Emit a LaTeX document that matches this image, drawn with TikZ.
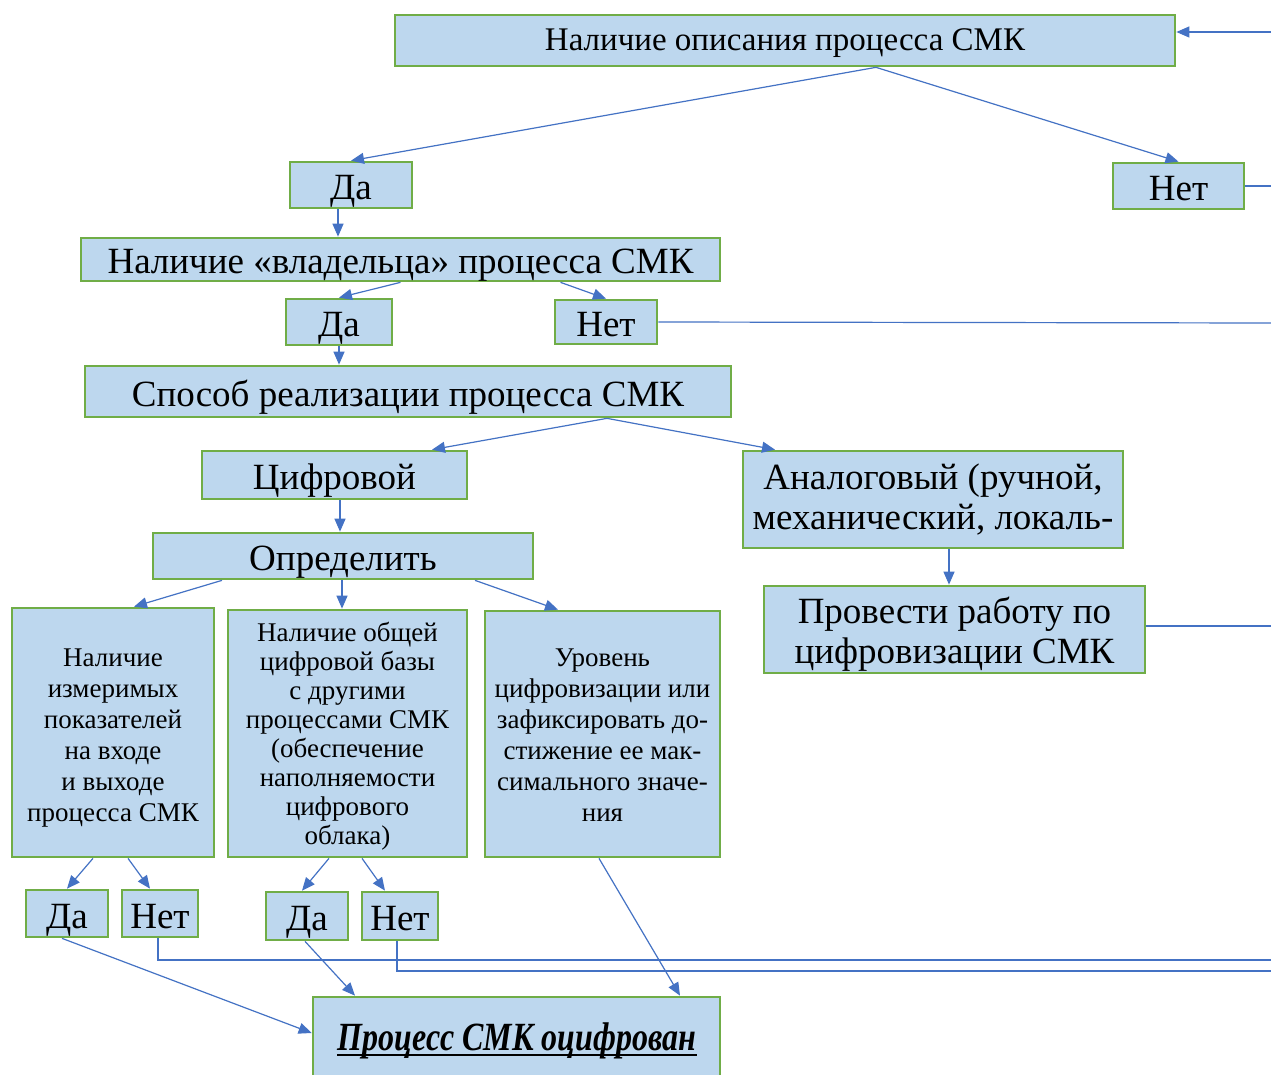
\documentclass[tikz,border=0pt]{standalone}
\usepackage{fontspec}
\setmainfont{Liberation Serif}
\newfontfamily\condfont[FakeStretch=0.8]{Liberation Serif}
\usetikzlibrary{arrows.meta,calc}
\definecolor{boxfill}{HTML}{BDD7EE}
\definecolor{boxline}{HTML}{70AD47}
\definecolor{conn}{HTML}{4472C4}
\newcommand{\fsz}[2]{\fontsize{#1}{#2}\selectfont}
\newcommand{\topstrut}[1]{\rule{0pt}{#1}}
\tikzset{
 box/.style={draw=boxline, fill=boxfill, line width=2.7pt, inner sep=0pt, align=center, text=black},
 big/.style={font=\fsz{37}{40}},
 bigone/.style={font=\fsz{37}{40}, text height=36pt, text depth=7pt},
 mid/.style={font=\fsz{33}{38}, text height=28pt, text depth=7pt},
 small/.style={font=\fsz{27}{31}},
 smaller/.style={font=\fsz{27}{29}},
 arr/.style={draw=conn, line width=1.2pt, -{Triangle[length=13pt,width=11pt]}},
 ln/.style={draw=conn, line width=1.2pt},
}
\begin{document}
\begin{tikzpicture}[x=1pt,y=-1pt]
\clip (0,0) rectangle (1271,1075);
\fill[white] (0,0) rectangle (1271,1075);
% boxes
\node[box, mid, minimum width=780pt, minimum height=51pt] (top) at (785,40.5) {Наличие описания процесса СМК};
\node[box, bigone, minimum width=122pt, minimum height=46pt] (da1) at (351,185) {Да};
\node[box, bigone, minimum width=131pt, minimum height=46pt] (net1) at (1178.5,186) {Нет};
\node[box, bigone, minimum width=639pt, minimum height=43pt] (owner) at (400.5,259.5) {Наличие «владельца» процесса СМК};
\node[box, bigone, minimum width=106pt, minimum height=46pt] (da2) at (339,322) {Да};
\node[box, bigone, minimum width=102pt, minimum height=44pt] (net2) at (606,322) {Нет};
\node[box, bigone, minimum width=646pt, minimum height=51pt] (way) at (408,391.5) {Способ реализации процесса СМК};
\node[box, bigone, minimum width=265pt, minimum height=48pt] (digit) at (334.5,475) {Цифровой};
\node[box, big, minimum width=380pt, minimum height=97pt] (analog) at (933,499.5) {Аналоговый (ручной,\\механический, локаль-};
\node[box, big, minimum width=381pt, minimum height=87pt] (work) at (954.5,629.5) {\topstrut{35.5pt}Провести работу по\\цифровизации СМК};
\node[box, bigone, minimum width=380pt, minimum height=46pt] (define) at (343,556) {Определить};
\node[box, small, minimum width=202pt, minimum height=249pt] (meas) at (113,732.5) {\topstrut{28pt}Наличие\\измеримых\\показателей\\на входе\\и выходе\\процесса СМК};
\node[box, smaller, minimum width=239pt, minimum height=247pt] (base) at (347.5,733.5) {\topstrut{24pt}Наличие общей\\цифровой базы\\с другими\\процессами СМК\\(обеспечение\\наполняемости\\цифрового\\облака)};
\node[box, small, minimum width=235pt, minimum height=246pt] (level) at (602.5,734) {\topstrut{20pt}Уровень\\цифровизации или\\зафиксировать до-\\стижение ее мак-\\симального значе-\\ния};
\node[box, bigone, minimum width=82pt, minimum height=47pt] (da3) at (67,913.5) {Да};
\node[box, bigone, minimum width=76pt, minimum height=47pt] (net3) at (160,913.5) {Нет};
\node[box, bigone, minimum width=82pt, minimum height=48pt] (da4) at (307,916) {Да};
\node[box, bigone, minimum width=76pt, minimum height=48pt] (net4) at (400,916) {Нет};
\node[box, minimum width=407pt, minimum height=120pt] (done) at (516.5,1057) {};
\node[inner sep=0pt, anchor=base, font=\condfont\bfseries\itshape\fsz{40}{44}] (donetxt) at (517,1050) {Процесс СМК оцифрован};
\draw[line width=2.6pt] ([yshift=-5pt]donetxt.base west) -- ([yshift=-5pt]donetxt.base east);
% coordinates for free ends
\coordinate (inA) at (1271,32);
\coordinate (outA) at (1271,186);
\coordinate (outB) at (1271,323);
\coordinate (outC) at (1271,626);
\coordinate (outD) at (1271,960);
\coordinate (outE) at (1271,971);
% connectors
\draw[arr] (inA) -- (top.east |- inA);
\draw[arr] ([xshift=91pt]top.south) -- (da1.north);
\draw[arr] ([xshift=91pt]top.south) -- (net1.north);
\draw[ln] (net1.east) -- (outA);
\draw[arr] ([xshift=-13pt]da1.south) -- ([xshift=-13pt]da1.south |- owner.north);
\draw[arr] (owner.south) -- (da2.north);
\draw[arr] ([xshift=160pt]owner.south) -- (net2.north);
\draw[ln] (net2.east) -- (outB);
\draw[arr] (da2.south) -- (da2.south |- way.north);
\draw[arr] ([xshift=199pt]way.south) -- ([xshift=97.5pt]digit.north);
\draw[arr] ([xshift=199pt]way.south) -- ([xshift=-158pt]analog.north);
\draw[arr] ([xshift=5.5pt]digit.south) -- ([xshift=5.5pt]digit.south |- define.north);
\draw[arr] ([xshift=16pt]analog.south) -- ([xshift=16pt]analog.south |- work.north);
\draw[ln] ([yshift=3.5pt]work.east) -- (outC);
\draw[arr] ([xshift=-121pt]define.south) -- ([xshift=21pt]meas.north);
\draw[arr] ([xshift=-1pt]define.south) -- ([xshift=-1pt]define.south |- base.north);
\draw[arr] ([xshift=132pt]define.south) -- ([xshift=-44.5pt]level.north);
\draw[arr] ([xshift=-20pt]meas.south) -- (da3.north);
\draw[arr] ([xshift=15pt]meas.south) -- ([xshift=-10pt]net3.north);
\draw[arr] ([xshift=-18.5pt]base.south) -- ([xshift=-5pt]da4.north);
\draw[arr] ([xshift=14.5pt]base.south) -- ([xshift=-15pt]net4.north);
\draw[arr] ([xshift=-3.5pt]level.south) -- ([xshift=163.5pt]done.north);
\draw[arr] ([xshift=-2pt]da4.south) -- ([xshift=-161.5pt]done.north);
\draw[arr] ([xshift=-5pt]da3.south) -- ([yshift=24pt]done.west);
\draw[ln] ([xshift=-2pt]net3.south) |- (outD);
\draw[ln] ([xshift=-3pt]net4.south) |- (outE);
\end{tikzpicture}
\end{document}
